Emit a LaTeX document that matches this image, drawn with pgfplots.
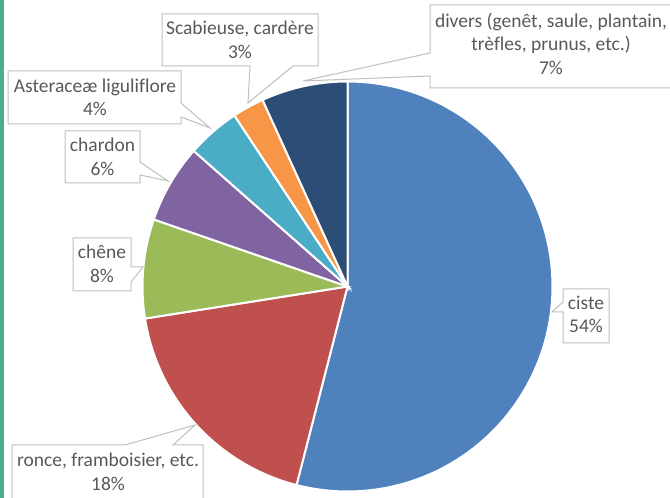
\documentclass[border=0pt]{standalone}
\usepackage{fontspec}
\setmainfont{Carlito}[Ligatures=NoCommon]
\usepackage{pgfplots}
\pgfplotsset{compat=1.18}
\definecolor{cCiste}{HTML}{4F81BD}
\definecolor{cRonce}{HTML}{C0504D}
\definecolor{cChene}{HTML}{9BBB59}
\definecolor{cChardon}{HTML}{8064A2}
\definecolor{cAster}{HTML}{4BACC6}
\definecolor{cScab}{HTML}{F79646}
\definecolor{cDivers}{HTML}{2C4D75}
\definecolor{txt}{HTML}{595959}
\definecolor{bord}{HTML}{BFBFBF}
\definecolor{sidebar}{RGB}{74,174,140}
\newcommand\lbl{\fontsize{19.5bp}{23.5bp}\selectfont}
% pie centre and radius (axis units = pixels)
\def\cx{347.5}\def\cy{211.5}\def\rr{205}
\def\cum{0}
\newcommand\slice[2]{%
  \pgfmathsetmacro\sa{90-3.6*(\cum+#1)}%
  \pgfmathsetmacro\sb{90-3.6*\cum}%
  \edef\temp{\noexpand\addplot[fill=#2, draw=white, line width=2bp, domain=\sa:\sb, samples=120, variable=\noexpand\t]
    ({\cx+\rr*cos(\noexpand\t)},{\cy+\rr*sin(\noexpand\t)}) -- (axis cs:\cx,\cy) -- cycle;}%
  \temp
  \pgfmathsetmacro\newcum{\cum+#1}\global\let\cum\newcum
}
\begin{document}
\begin{tikzpicture}[x=1bp,y=1bp]
\useasboundingbox (0,0) rectangle (670,498);
\begin{axis}[at={(0,0)}, anchor=south west, scale only axis,
  width=670bp, height=498bp, xmin=0, xmax=670, ymin=0, ymax=498,
  hide axis, clip=true]
% shares in percent, clockwise from 12 o'clock
\slice{54}{cCiste}
\slice{18.5}{cRonce}
\slice{7.8}{cChene}
\slice{6.2}{cChardon}
\slice{4.2}{cAster}
\slice{2.5}{cScab}
\slice{6.8}{cDivers}
% side bar
\fill[sidebar] (axis cs:0,0) rectangle (axis cs:4,498);
% callouts
\draw[bord, fill=white, line width=1bp] (axis cs:162,484) -- (axis cs:318,484) -- (axis cs:318,432) -- (axis cs:293,432) -- (axis cs:248,395) -- (axis cs:250,432) -- (axis cs:162,432) -- cycle;
\node[align=center, text=txt, font=\lbl, inner sep=0pt] at (axis cs:240,458) {Scabieuse, cardère\\3\%};
\draw[bord, fill=white, line width=1bp] (axis cs:430,493) -- (axis cs:672,493) -- (axis cs:672,410) -- (axis cs:430,410) -- (axis cs:430,422) -- (axis cs:303,417) -- (axis cs:430,445) -- cycle;
\node[align=center, text=txt, font=\lbl, inner sep=0pt] at (axis cs:551,454.5) {divers (genêt, saule, plantain,\\trèfles, prunus, etc.)\\7\%};
\draw[bord, fill=white, line width=1bp] (axis cs:8,427) -- (axis cs:181,427) -- (axis cs:181,395) -- (axis cs:210,370) -- (axis cs:181,381) -- (axis cs:181,374) -- (axis cs:8,374) -- cycle;
\node[align=center, text=txt, font=\lbl, inner sep=0pt] at (axis cs:95,400.5) {Asteraceæ liguliflore\\4\%};
\draw[bord, fill=white, line width=1bp] (axis cs:65,367) -- (axis cs:140,367) -- (axis cs:140,336) -- (axis cs:168,317) -- (axis cs:140,323) -- (axis cs:140,315) -- (axis cs:65,315) -- cycle;
\node[align=center, text=txt, font=\lbl, inner sep=0pt] at (axis cs:102.5,341) {chardon\\6\%};
\draw[bord, fill=white, line width=1bp] (axis cs:73,260) -- (axis cs:131,260) -- (axis cs:131,231) -- (axis cs:143,231) -- (axis cs:131,216) -- (axis cs:131,207) -- (axis cs:73,207) -- cycle;
\node[align=center, text=txt, font=\lbl, inner sep=0pt] at (axis cs:102,234) {chêne\\8\%};
\draw[bord, fill=white, line width=1bp] (axis cs:12,53) -- (axis cs:125,53) -- (axis cs:195,73) -- (axis cs:173,53) -- (axis cs:203,53) -- (axis cs:203,-12) -- (axis cs:12,-12) -- cycle;
\node[align=center, text=txt, font=\lbl, inner sep=0pt] at (axis cs:108,26) {ronce, framboisier, etc.\\18\%};
\draw[bord, fill=white, line width=1bp] (axis cs:563,209) -- (axis cs:609,209) -- (axis cs:609,155) -- (axis cs:563,155) -- (axis cs:563,186) -- (axis cs:552,186) -- (axis cs:563,196) -- cycle;
\node[align=center, text=txt, font=\lbl, inner sep=0pt] at (axis cs:586,183.5) {ciste\\54\%};
\end{axis}
\end{tikzpicture}
\end{document}
